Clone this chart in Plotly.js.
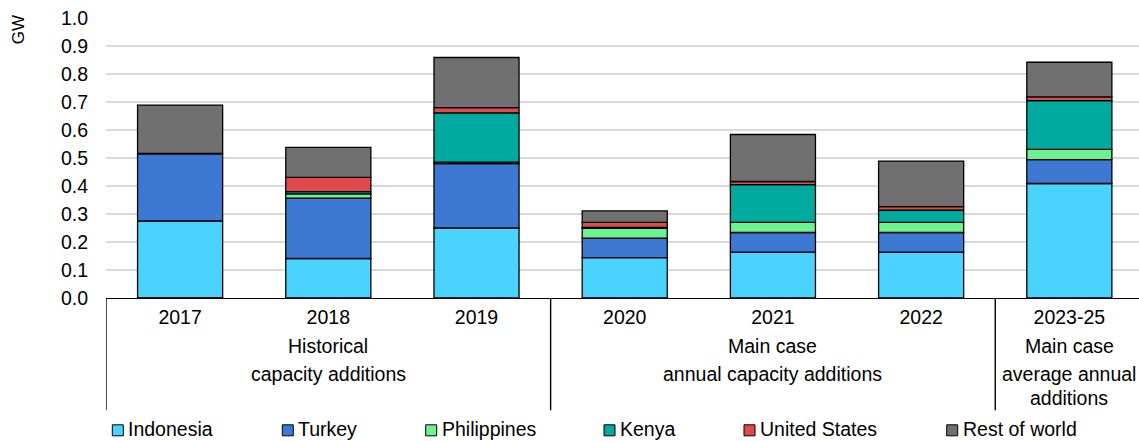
<!DOCTYPE html>
<html>
<head>
<meta charset="utf-8">
<script src="https://cdn.plot.ly/plotly-3.0.1.min.js"></script>
<style>html,body{margin:0;padding:0;background:#fff;}#chart{width:1139px;height:441px;}</style>
</head>
<body>
<div id="chart"></div>
<script>
// ---- data ----
var categories = ["2017", "2018", "2019", "2020", "2021", "2022", "2023-25"];
var seriesNames = ["Indonesia", "Turkey", "Philippines", "Kenya", "United States", "Rest of world"];
var indonesia    = [0.275, 0.141, 0.250, 0.144, 0.164, 0.164, 0.409];
var turkey       = [0.241, 0.216, 0.230, 0.070, 0.070, 0.070, 0.085];
var philippines  = [0.000, 0.015, 0.005, 0.035, 0.036, 0.036, 0.037];
var kenya        = [0.000, 0.008, 0.176, 0.003, 0.135, 0.044, 0.174];
var unitedStates = [-0.003, 0.051, 0.019, 0.018, 0.011, 0.012, 0.013];
var restOfWorld  = [0.173, 0.107, 0.179, 0.041, 0.168, 0.163, 0.124];
var groupLabels = [
  {at: "2018", lines: ["Historical", "capacity additions"]},
  {at: "2021", lines: ["Main case", "annual capacity additions"]},
  {at: "2023-25", lines: ["Main case", "average annual", "additions"]}
];
var groupBoundaries = [-0.5, 2.5, 5.5];
var yTicks = [0, 0.1, 0.2, 0.3, 0.4, 0.5, 0.6, 0.7, 0.8, 0.9, 1.0];
var yUnit = "GW";

// ---- styles ----
var colors = ["#4AD3FF", "#3D78D2", "#6CF38F", "#00AA9F", "#E04A4A", "#6F706F"];
var FONT = "Liberation Sans, Arial, sans-serif";
var FS = 19.5;
var W = 1139, H = 441;
var ML = 106, MT = 17.7, PH = 280, PW = W - ML;
function py(p) { return (MT + PH - p) / PH; }   // pixel y -> paper y
function px(p) { return (p - ML) / PW; }        // pixel x -> paper x

var values = [indonesia, turkey, philippines, kenya, unitedStates, restOfWorld];
var traces = values.map(function (v, i) {
  return {
    type: "bar",
    name: seriesNames[i],
    x: categories,
    y: v,
    width: 0.574,
    cliponaxis: false,
    marker: {color: colors[i], line: {color: "#000", width: 1.3}},
    hoverinfo: "name+y",
    showlegend: false
  };
});

var annotations = [];
var shapes = [];

// group labels (placed at category index to avoid numeric-string casting)
var lineY = [346, 374, 397.5];
groupLabels.forEach(function (g) {
  var idx = categories.indexOf(g.at);
  g.lines.forEach(function (t, k) {
    annotations.push({
      text: t, x: idx, xref: "x", y: py(lineY[k]), yref: "paper",
      xanchor: "center", yanchor: "middle", showarrow: false,
      font: {family: FONT, size: FS, color: "#000"}
    });
  });
});

// group separator lines
groupBoundaries.forEach(function (b) {
  shapes.push({type: "line", xref: "x", yref: "paper", x0: b, x1: b,
    y0: 0, y1: py(410), line: {color: "#000", width: 1.4}});
});

// unit label
annotations.push({text: yUnit, xref: "paper", yref: "paper", x: px(18), y: py(30),
  xanchor: "center", yanchor: "middle", textangle: -90, showarrow: false,
  font: {family: FONT, size: 17, color: "#000"}});

// legend (manual)
var legendLeft = [112.3, 282.3, 425.7, 604, 744, 946.7];
var legendY = 430;
seriesNames.forEach(function (n, i) {
  shapes.push({type: "rect", xref: "paper", yref: "paper",
    x0: px(legendLeft[i]), x1: px(legendLeft[i] + 11),
    y0: py(legendY - 5.5), y1: py(legendY + 5.5),
    fillcolor: colors[i], line: {color: "#000", width: 1}});
  annotations.push({text: n, xref: "paper", yref: "paper",
    x: px(legendLeft[i] + 14), y: py(legendY - 1.5),
    xanchor: "left", yanchor: "middle", showarrow: false,
    font: {family: FONT, size: FS, color: "#000"}});
});

var layout = {
  width: W, height: H,
  margin: {l: ML, r: 0, t: MT, b: H - MT - PH, pad: 0},
  paper_bgcolor: "#fff", plot_bgcolor: "#fff",
  barmode: "relative",
  font: {family: FONT, size: FS, color: "#000"},
  showlegend: false,
  xaxis: {
    type: "category", categoryorder: "array", categoryarray: categories,
    range: [-0.5, 6.47], showgrid: false, zeroline: false,
    showline: true, linecolor: "#000", linewidth: 1.4,
    ticks: "", ticklabelstandoff: 1,
    tickfont: {family: FONT, size: FS, color: "#000"}, fixedrange: true
  },
  yaxis: {
    range: [0, 1.0], tickvals: yTicks,
    ticktext: yTicks.map(function (v) { return v.toFixed(1); }),
    showgrid: true, gridcolor: "#D9D9D9", gridwidth: 1.3,
    zeroline: false, showline: false, ticks: "", ticklabelstandoff: 17,
    tickfont: {family: FONT, size: FS, color: "#000"}, fixedrange: true
  },
  annotations: annotations,
  shapes: shapes
};

Plotly.newPlot("chart", traces, layout, {displayModeBar: false, staticPlot: true});
</script>
</body>
</html>
